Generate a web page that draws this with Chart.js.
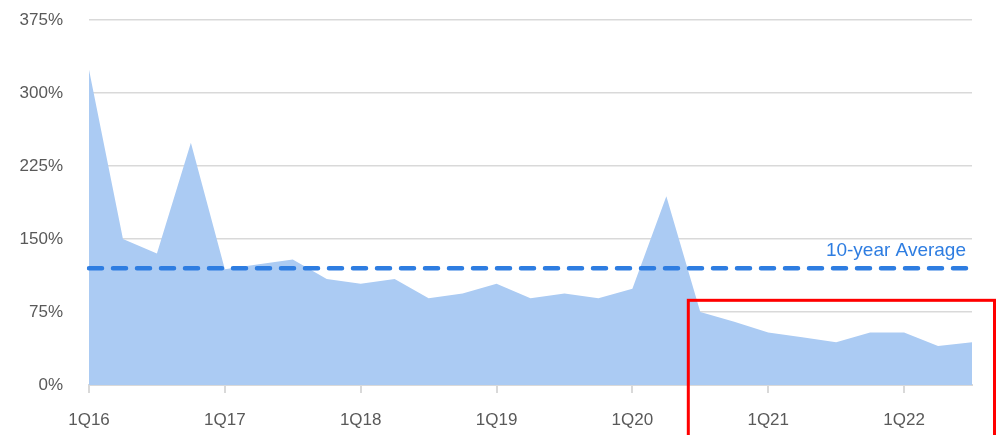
<!DOCTYPE html>
<html>
<head>
<meta charset="utf-8">
<script src="https://cdn.jsdelivr.net/npm/chart.js@4"></script>
<style>
  html, body { margin: 0; padding: 0; background: #fff; }
  #wrap { width: 996px; height: 435px; position: relative; }
</style>
</head>
<body>
<div id="wrap"><canvas id="chart"></canvas></div>
<script>
// --- data ---
const quarters = [
    '1Q16', '2Q16', '3Q16', '4Q16',
    '1Q17', '2Q17', '3Q17', '4Q17',
    '1Q18', '2Q18', '3Q18', '4Q18',
    '1Q19', '2Q19', '3Q19', '4Q19',
    '1Q20', '2Q20', '3Q20', '4Q20',
    '1Q21', '2Q21', '3Q21', '4Q21',
    '1Q22', '2Q22', '3Q22'
];
const ratioValues = [
    324, 150, 135, 249,
    119, 124, 129, 109,
    104, 109, 89, 94,
    104, 89, 94, 89,
    99, 194, 75, 65,
    54, 49, 44, 54,
    54, 40, 44
];
const tenYearAverage = 120;
const averageLabel = '10-year Average';
const yTicks = [0, 75, 150, 225, 300, 375];

// highlight box (recent quarters)
const highlightFromQuarter = '3Q20';
const highlightTopValue = 87;

const FONT = "'Liberation Sans', Arial, sans-serif";
const TEXT_GREY = '#595959';
const GRID_GREY = '#d9d9d9';
const AREA_BLUE = '#abcbf3';
const LINE_BLUE = '#2e7de1';

const averageLabelPlugin = {
    id: 'averageLabel',
    afterDatasetsDraw(chart) {
        const { ctx, chartArea, scales } = chart;
        const y = scales.y.getPixelForValue(tenYearAverage);
        ctx.save();
        ctx.font = `19px ${FONT}`;
        ctx.fillStyle = LINE_BLUE;
        ctx.textAlign = 'right';
        ctx.textBaseline = 'middle';
        ctx.fillText(averageLabel, chartArea.right - 6, y - 17);
        ctx.restore();
    }
};

const highlightBoxPlugin = {
    id: 'highlightBox',
    afterDraw(chart) {
        const { ctx, scales } = chart;
        const left = scales.x.getPixelForValue(quarters.indexOf(highlightFromQuarter)) - 12;
        const top = scales.y.getPixelForValue(highlightTopValue);
        const right = chart.width - 1.5;
        ctx.save();
        ctx.strokeStyle = '#ff0000';
        ctx.lineWidth = 3;
        ctx.strokeRect(left, top, right - left, chart.height + 10 - top);
        ctx.restore();
    }
};

const ctx = document.getElementById('chart').getContext('2d');

new Chart(ctx, {
    type: 'line',
    data: {
        labels: quarters,
        datasets: [
            {
                label: averageLabel,
                data: quarters.map(() => tenYearAverage),
                borderColor: LINE_BLUE,
                borderWidth: 4.5,
                borderDash: [13, 11],
                borderCapStyle: 'round',
                pointRadius: 0,
                fill: false,
                order: 0
            },
            {
                label: 'Ratio',
                data: ratioValues,
                borderWidth: 0,
                borderColor: AREA_BLUE,
                backgroundColor: AREA_BLUE,
                pointRadius: 0,
                tension: 0,
                fill: 'origin',
                order: 1
            }
        ]
    },
    options: {
        responsive: true,
        maintainAspectRatio: false,
        animation: false,
        layout: { padding: { top: 20, right: 24, left: 0, bottom: 0 } },
        plugins: {
            legend: { display: false },
            tooltip: { enabled: false }
        },
        scales: {
            x: {
                offset: false,
                grid: {
                    drawOnChartArea: false,
                    color: GRID_GREY,
                    lineWidth: 2,
                    tickLength: 8
                },
                border: { display: true, color: GRID_GREY, width: 2 },
                ticks: {
                    autoSkip: false,
                    maxRotation: 0,
                    padding: 17,
                    color: TEXT_GREY,
                    font: { family: FONT, size: 17 },
                    callback: function(value, index) {
                        return index % 4 === 0 ? quarters[index] : null;
                    }
                },
                afterFit(scale) { scale.height = 50; }
            },
            y: {
                min: 0,
                max: 375,
                grid: {
                    color: GRID_GREY,
                    lineWidth: 1.5,
                    drawTicks: false
                },
                border: { display: false },
                afterBuildTicks(scale) {
                    scale.ticks = yTicks.map(v => ({ value: v }));
                },
                ticks: {
                    padding: 26,
                    color: TEXT_GREY,
                    font: { family: FONT, size: 17 },
                    callback: (v) => v + '%'
                },
                afterFit(scale) {
                    scale.width = 89;
                    // tick padding would otherwise push the plot down
                    scale.paddingTop = 0;
                    scale.paddingBottom = 0;
                }
            }
        }
    },
    plugins: [averageLabelPlugin, highlightBoxPlugin]
});
</script>
</body>
</html>
